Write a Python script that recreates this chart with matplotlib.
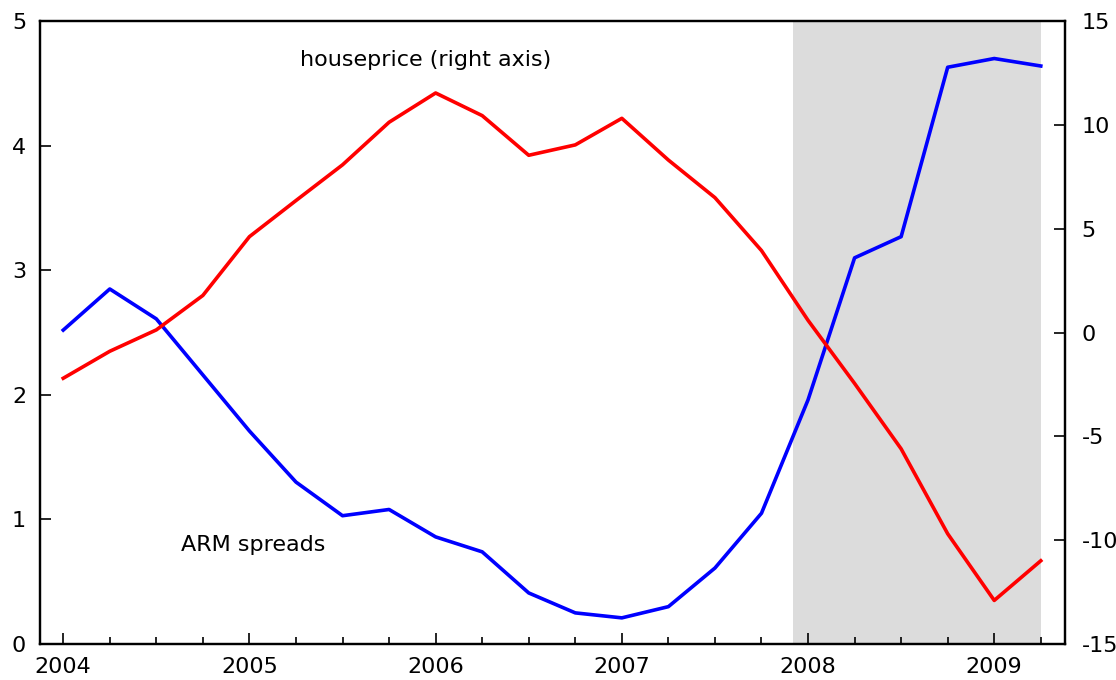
import matplotlib

matplotlib.use("Agg")
import matplotlib.pyplot as plt
import numpy as np
from matplotlib.ticker import MultipleLocator

# quarterly observations, 2004Q1 .. 2009Q2
QUARTERS = 2004 + 0.25 * np.arange(22)

ARM_SPREADS = [
    2.52, 2.85, 2.61, 2.16, 1.71, 1.30, 1.03, 1.08, 0.86, 0.74, 0.41,
    0.25, 0.21, 0.30, 0.61, 1.05, 1.96, 3.10, 3.27, 4.63, 4.70, 4.64,
]
HOUSEPRICE = [
    -2.20, -0.90, 0.13, 1.79, 4.62, 6.36, 8.08, 10.13, 11.54, 10.45, 8.54,
    9.04, 10.32, 8.31, 6.50, 3.95, 0.59, -2.45, -5.60, -9.69, -12.90, -10.99,
]
RECESSION = (2007.917, 2009.25)
YEAR_TICKS = [2004, 2005, 2006, 2007, 2008, 2009]

plt.rcParams["font.family"] = "DejaVu Sans"
plt.rcParams["font.size"] = 16
plt.rcParams["axes.unicode_minus"] = False

fig = plt.figure(figsize=(11.16, 6.8), dpi=100)
ax = fig.add_axes([0.0358, 0.0529, 0.9185, 0.916])
ax2 = ax.twinx()

ax.axvspan(*RECESSION, color="#dcdcdc", lw=0, zorder=0)
ax.plot(QUARTERS, ARM_SPREADS, color="#0000ff", lw=2.6, zorder=3)
ax2.plot(QUARTERS, HOUSEPRICE, color="#ff0000", lw=2.6, zorder=3)

ax.set_xlim(2003.875, 2009.38)
ax.set_ylim(0, 5)
ax2.set_ylim(-15, 15)
ax.set_xticks(YEAR_TICKS)
ax.set_xticklabels([str(y) for y in YEAR_TICKS])
ax.xaxis.set_minor_locator(MultipleLocator(0.25))
ax.set_yticks(range(6))
ax2.set_yticks(range(-15, 16, 5))

for a in (ax, ax2):
    for sp in a.spines.values():
        sp.set_linewidth(1.6)
    a.tick_params(which="major", direction="in", length=8, width=1.2, labelsize=16)
    a.tick_params(which="minor", direction="in", length=5, width=1.2)
ax.tick_params(axis="x", top=False, pad=9)
ax.tick_params(axis="x", which="minor", top=False)
ax.tick_params(axis="y", right=False, pad=10)
ax2.tick_params(axis="y", pad=12)

ax.text(2005.27, 4.687, "houseprice (right axis)", fontsize=16, va="center")
ax.text(2004.63, 0.795, "ARM spreads", fontsize=16, va="center")

fig.savefig("out.png", dpi=100)
